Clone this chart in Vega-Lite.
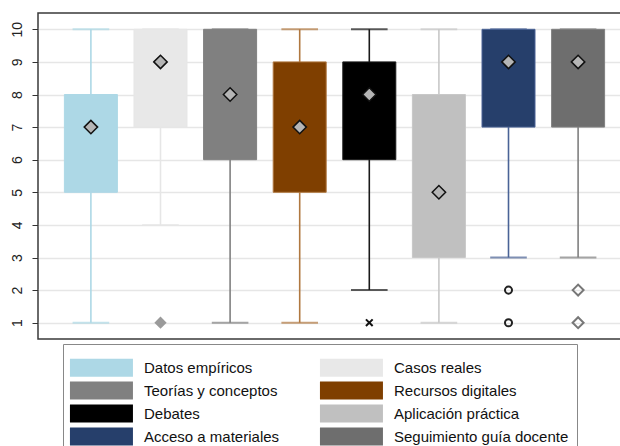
{
  "$schema": "https://vega.github.io/schema/vega-lite/v6.json",
  "width": 593,
  "height": 326,
  "autosize": "none",
  "padding": {"left": 38, "top": 13, "right": 0, "bottom": 107},
  "background": "white",
  "config": {
    "view": {"stroke": "#3a3a3a", "strokeWidth": 1.5},
    "font": "Liberation Sans"
  },
  "datasets": {
    "boxes": [
      {"cat": "Datos empíricos", "lo": 1, "q1": 5, "med": 7, "q3": 8, "hi": 10},
      {"cat": "Casos reales", "lo": 4, "q1": 7, "med": 9, "q3": 10, "hi": 10},
      {"cat": "Teorías y conceptos", "lo": 1, "q1": 6, "med": 8, "q3": 10, "hi": 10},
      {"cat": "Recursos digitales", "lo": 1, "q1": 5, "med": 7, "q3": 9, "hi": 10},
      {"cat": "Debates", "lo": 2, "q1": 6, "med": 8, "q3": 9, "hi": 10},
      {"cat": "Aplicación práctica", "lo": 1, "q1": 3, "med": 5, "q3": 8, "hi": 10},
      {"cat": "Acceso a materiales", "lo": 3, "q1": 7, "med": 9, "q3": 10, "hi": 10},
      {"cat": "Seguimiento guía docente", "lo": 3, "q1": 7, "med": 9, "q3": 10, "hi": 10}
    ],
    "outliers": [
      {"cat": "Casos reales", "value": 1},
      {"cat": "Debates", "value": 1},
      {"cat": "Acceso a materiales", "value": 2},
      {"cat": "Acceso a materiales", "value": 1},
      {"cat": "Seguimiento guía docente", "value": 2},
      {"cat": "Seguimiento guía docente", "value": 1}
    ]
  },
  "encoding": {
    "x": {
      "field": "cat",
      "type": "nominal",
      "scale": {
        "type": "point",
        "padding": 0.76,
        "domain": ["Datos empíricos", "Casos reales", "Teorías y conceptos", "Recursos digitales", "Debates", "Aplicación práctica", "Acceso a materiales", "Seguimiento guía docente"]
      },
      "axis": null
    }
  },
  "layer": [
    {
      "data": {"name": "boxes"},
      "mark": {"type": "rule", "strokeWidth": 1.6},
      "encoding": {
        "y": {
          "field": "lo",
          "type": "quantitative",
          "scale": {"domain": [0.5, 10.5], "nice": false, "zero": false},
          "axis": {
            "title": null,
            "values": [1, 2, 3, 4, 5, 6, 7, 8, 9, 10],
            "tickCount": 10,
            "labelAngle": -90,
            "labelAlign": "center",
            "labelBaseline": "bottom",
            "labelFontSize": 14,
            "labelColor": "#222",
            "labelPadding": 8,
            "labelOverlap": false,
            "tickSize": 6,
            "tickColor": "#333",
            "tickWidth": 1,
            "domain": false,
            "grid": true,
            "gridColor": "#e6e6e6",
            "gridWidth": 1.5
          }
        },
        "y2": {"field": "hi"},
        "stroke": {
          "field": "cat",
          "type": "nominal",
          "scale": {
            "domain": ["Acceso a materiales", "Aplicación práctica", "Casos reales", "Datos empíricos", "Debates", "Recursos digitales", "Seguimiento guía docente", "Teorías y conceptos"],
            "range": ["#4a6396", "#c8c8c8", "#e6e6e6", "#add8e6", "#1a1a1a", "#b07840", "#808080", "#808080"]
          },
          "legend": null
        }
      }
    },
    {
      "data": {"name": "boxes"},
      "mark": {"type": "tick", "size": 35, "thickness": 0.4, "filled": false, "strokeWidth": 1.6},
      "encoding": {
        "y": {"field": "lo", "type": "quantitative"},
        "stroke": {"field": "cat", "type": "nominal", "legend": null}
      }
    },
    {
      "data": {"name": "boxes"},
      "mark": {"type": "tick", "size": 35, "thickness": 0.4, "filled": false, "strokeWidth": 1.6},
      "encoding": {
        "y": {"field": "hi", "type": "quantitative"},
        "stroke": {"field": "cat", "type": "nominal", "legend": null}
      }
    },
    {
      "data": {"name": "boxes"},
      "mark": {"type": "bar", "width": 53, "strokeWidth": 1},
      "encoding": {
        "y": {"field": "q1", "type": "quantitative"},
        "y2": {"field": "q3"},
        "stroke": {"field": "cat", "type": "nominal", "legend": null},
        "fill": {
          "field": "cat",
          "type": "nominal",
          "scale": {
            "domain": ["Datos empíricos", "Casos reales", "Teorías y conceptos", "Recursos digitales", "Debates", "Aplicación práctica", "Acceso a materiales", "Seguimiento guía docente"],
            "range": ["#add8e6", "#e8e8e8", "#808080", "#7f3f00", "#000000", "#c0c0c0", "#263f6b", "#6e6e6e"]
          },
          "legend": {
            "orient": "none",
            "legendX": 25,
            "legendY": 331,
            "direction": "horizontal",
            "columns": 2,
            "title": " ",
            "titleFontSize": 2,
            "titlePadding": 3,
            "symbolType": "M-1.1,-0.857H4.9V0.857H-1.1Z",
            "symbolSize": 441,
            "symbolStrokeWidth": 0,
            "symbolOpacity": 1,
            "labelFontSize": 15,
            "labelFont": "Liberation Sans",
            "labelColor": "#111",
            "labelOffset": 52,
            "labelLimit": 300,
            "columnPadding": 39,
            "rowPadding": 3,
            "strokeColor": "#888",
            "fillColor": "white",
            "padding": 8
          }
        }
      }
    },
    {
      "data": {"name": "boxes"},
      "mark": {"type": "point", "shape": "diamond", "filled": true, "size": 180, "fill": "#b5b5b5", "stroke": "#111", "strokeWidth": 1.5, "opacity": 1},
      "encoding": {
        "y": {"field": "med", "type": "quantitative"}
      }
    },
    {
      "data": {"name": "outliers"},
      "transform": [{"filter": "datum.cat === 'Casos reales'"}],
      "mark": {"type": "point", "shape": "diamond", "filled": true, "size": 150, "fill": "#9a9a9a", "strokeWidth": 0, "opacity": 1},
      "encoding": {"y": {"field": "value", "type": "quantitative"}}
    },
    {
      "data": {"name": "outliers"},
      "transform": [{"filter": "datum.cat === 'Debates'"}],
      "mark": {"type": "point", "shape": "M-1,-1L1,1M1,-1L-1,1", "filled": false, "size": 45, "stroke": "#111", "strokeWidth": 2, "opacity": 1},
      "encoding": {"y": {"field": "value", "type": "quantitative"}}
    },
    {
      "data": {"name": "outliers"},
      "transform": [{"filter": "datum.cat === 'Acceso a materiales'"}],
      "mark": {"type": "point", "shape": "circle", "filled": false, "size": 50, "stroke": "#222", "strokeWidth": 2, "opacity": 1},
      "encoding": {"y": {"field": "value", "type": "quantitative"}}
    },
    {
      "data": {"name": "outliers"},
      "transform": [{"filter": "datum.cat === 'Seguimiento guía docente'"}],
      "mark": {"type": "point", "shape": "diamond", "filled": false, "size": 120, "stroke": "#777", "strokeWidth": 2, "opacity": 1},
      "encoding": {"y": {"field": "value", "type": "quantitative"}}
    }
  ]
}
